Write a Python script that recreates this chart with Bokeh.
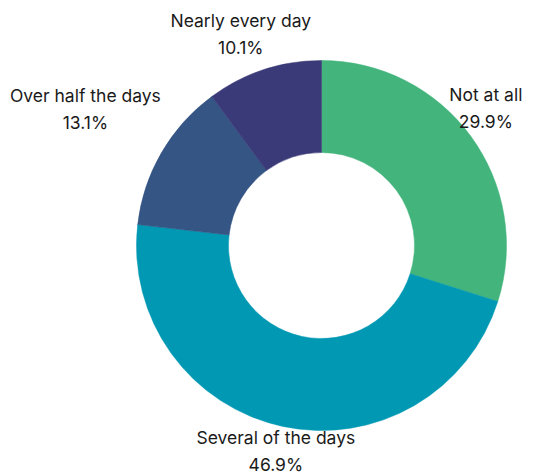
import math
from bokeh.plotting import figure
from bokeh.models import ColumnDataSource, Range1d
from bokeh.core.properties import value
from bokeh.embed import file_html
from bokeh.resources import INLINE

categories = ["Not at all", "Several of the days", "Over half the days", "Nearly every day"]
percents = [29.9, 46.9, 13.1, 10.1]
pct_labels = ["29.9%", "46.9%", "13.1%", "10.1%"]
colors = ["#43B47C", "#0098B3", "#355584", "#3A3A79"]

# layout (pixels)
W, H = 547, 474
cx, cy = 321, H - 245
r_out, r_in = 185, 93
label_dx = [15, -7, -76, -23]
label_dy = [-28, 25, -44, -36]
line_gap = 13.5

total = sum(percents)
starts, ends, mids = [], [], []
acc = 0.0
for v in percents:
    a0 = math.pi / 2 - 2 * math.pi * acc / total
    acc += v
    a1 = math.pi / 2 - 2 * math.pi * acc / total
    starts.append(a0)
    ends.append(a1)
    mids.append((a0 + a1) / 2)

src = ColumnDataSource(dict(start=starts, end=ends, color=colors))

p = figure(width=W, height=H, output_backend="svg", toolbar_location=None,
           x_range=Range1d(0, W), y_range=Range1d(0, H), min_border=0)
p.axis.visible = False
p.grid.visible = False
p.outline_line_color = None
p.background_fill_color = "white"

p.annular_wedge(x=cx, y=cy, inner_radius=r_in, outer_radius=r_out,
                start_angle="start", end_angle="end", direction="clock",
                fill_color="color", line_color="color", line_width=0.5, source=src)

ax = [cx + r_out * math.cos(m) for m in mids]
ay = [cy + r_out * math.sin(m) for m in mids]
lsrc = ColumnDataSource(dict(
    x=ax, y=ay, name=categories, pct=pct_labels,
    dx=label_dx,
    dy1=[d - line_gap for d in label_dy],
    dy2=[d + line_gap for d in label_dy],
))
common = dict(text_font=value("Inter"), text_font_size="17.5px", text_color="#1a1a1a",
              text_align="center", text_baseline="middle", source=lsrc)
p.text(x="x", y="y", text="name", x_offset="dx", y_offset="dy1", **common)
p.text(x="x", y="y", text="pct", x_offset="dx", y_offset="dy2", **common)

open("out.html", "w").write(file_html(p, INLINE))
